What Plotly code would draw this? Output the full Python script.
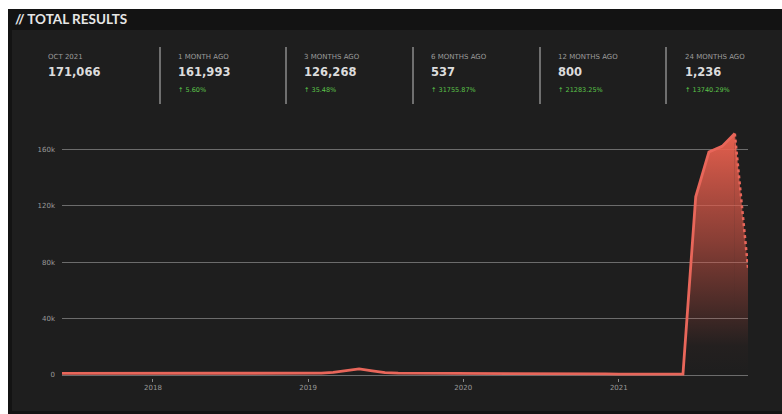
import plotly.graph_objects as go
import pandas as pd

# ---------------- data ----------------
months = pd.date_range("2017-06-01", "2021-10-01", freq="MS").strftime("%Y-%m-%d").tolist()
values = [
    # 2017 Jun-Dec
    1150, 1200, 1180, 1220, 1250, 1230, 1260,
    # 2018
    1240, 1270, 1250, 1230, 1260, 1280, 1250, 1240, 1260, 1270, 1250, 1240,
    # 2019
    1260, 1300, 1900, 3300, 4300, 2900, 1700, 1350, 1280, 1236, 1200, 1180,
    # 2020
    1150, 1120, 1100, 1080, 1050, 1000, 950, 900, 850, 800, 780, 760,
    # 2021 Jan-Oct
    700, 650, 600, 537, 560, 700, 126268, 158000, 161993, 171066,
]
partial_x = ["2021-10-01", "2021-11-01"]
partial_y = [171066, 76000]

stat_labels = ["OCT 2021", "1 MONTH AGO", "3 MONTHS AGO", "6 MONTHS AGO", "12 MONTHS AGO", "24 MONTHS AGO"]
stat_values = ["171,066", "161,993", "126,268", "537", "800", "1,236"]
stat_changes = ["", "5.60%", "35.48%", "31755.87%", "21283.25%", "13740.29%"]

y_tickvals = [0, 40000, 80000, 120000, 160000]
y_ticktext = ["0", "40k", "80k", "120k", "160k"]
x_tickvals = ["2018-01-01", "2019-01-01", "2020-01-01", "2021-01-01"]
x_ticktext = ["2018", "2019", "2020", "2021"]

# ---------------- geometry helpers ----------------
W, H = 782, 414
L, R, T, B = 62, 748, 121, 378  # plot area in pixels


def px(x):
    return (x - L) / (R - L)


def py(y):
    return (B - y) / (B - T)


LINE = "#e8665a"
grad = dict(type="vertical", start=0, stop=172000,
            colorscale=[[0, "rgba(220,85,70,0)"], [0.12, "rgba(220,85,70,0.03)"],
                        [0.55, "rgba(222,88,72,0.55)"], [1, "rgba(236,98,80,0.97)"]])

fig = go.Figure()
fig.add_trace(go.Scatter(x=partial_x, y=partial_y, mode="lines",
                         line=dict(color=LINE, width=2.5, dash="dot"),
                         fill="tozeroy", fillgradient=grad, hoverinfo="skip", showlegend=False))
fig.add_trace(go.Scatter(x=months, y=values, mode="lines",
                         line=dict(color=LINE, width=2.8),
                         fill="tozeroy", fillgradient=grad, showlegend=False))

shapes = [
    dict(type="rect", xref="paper", yref="paper", x0=px(8), x1=px(W + 2), y0=py(H + 2), y1=py(9),
         fillcolor="#131313", line=dict(width=0), layer="below"),
    dict(type="rect", xref="paper", yref="paper", x0=px(12), x1=px(W + 2), y0=py(411), y1=py(30),
         fillcolor="#1e1e1e", line=dict(width=0), layer="below"),
]
sep_x = [160, 286, 413, 540, 666]
for sx in sep_x:
    shapes.append(dict(type="line", xref="paper", yref="paper", x0=px(sx), x1=px(sx),
                       y0=py(104), y1=py(47), line=dict(color="#6f6f6f", width=2)))

annotations = [dict(text="<b>// TOTAL RESULTS</b>", xref="paper", yref="paper", x=px(13), y=py(19),
                    xanchor="left", yanchor="middle", showarrow=False,
                    font=dict(family="Lato", size=13.5, color="#e6e6e6"))]
text_x = [46, 176, 302, 429, 556, 683]
for i in range(len(stat_labels)):
    annotations.append(dict(text=stat_labels[i], xref="paper", yref="paper", x=px(text_x[i]), y=py(57),
                            xanchor="left", yanchor="middle", showarrow=False,
                            font=dict(family="DejaVu Sans", size=7, color="#9c9c9c")))
    annotations.append(dict(text="<b>" + stat_values[i] + "</b>", xref="paper", yref="paper",
                            x=px(text_x[i]), y=py(72), xanchor="left", yanchor="middle", showarrow=False,
                            font=dict(family="DejaVu Sans", size=11.5, color="#dcdcdc")))
    if stat_changes[i]:
        annotations.append(dict(text="↑ " + stat_changes[i], xref="paper", yref="paper",
                                x=px(text_x[i]), y=py(90), xanchor="left", yanchor="middle",
                                showarrow=False, font=dict(family="DejaVu Sans", size=6.5, color="#5cc44a")))

fig.update_layout(
    width=W, height=H,
    margin=dict(l=L, r=W - R, t=T, b=H - B, pad=0),
    paper_bgcolor="#ffffff", plot_bgcolor="rgba(0,0,0,0)",
    shapes=shapes, annotations=annotations,
    xaxis=dict(type="date", range=["2017-06-01", "2021-11-01"], showgrid=False, zeroline=False,
               showline=False, tickvals=x_tickvals, ticktext=x_ticktext,
               ticks="outside", ticklen=3, tickcolor="#8a8a8a", tickwidth=1,
               tickfont=dict(family="DejaVu Sans", size=7, color="#9a9a9a")),
    yaxis=dict(range=[-2100, 180000], showgrid=True, gridcolor="#6c6c6c", gridwidth=1.3,
               zeroline=True, zerolinecolor="#6c6c6c", zerolinewidth=1.3, showline=False,
               tickvals=y_tickvals, ticktext=y_ticktext, ticks="", ticklabelstandoff=6,
               tickfont=dict(family="DejaVu Sans", size=7, color="#9a9a9a")),
)

fig.write_html("out.html")
